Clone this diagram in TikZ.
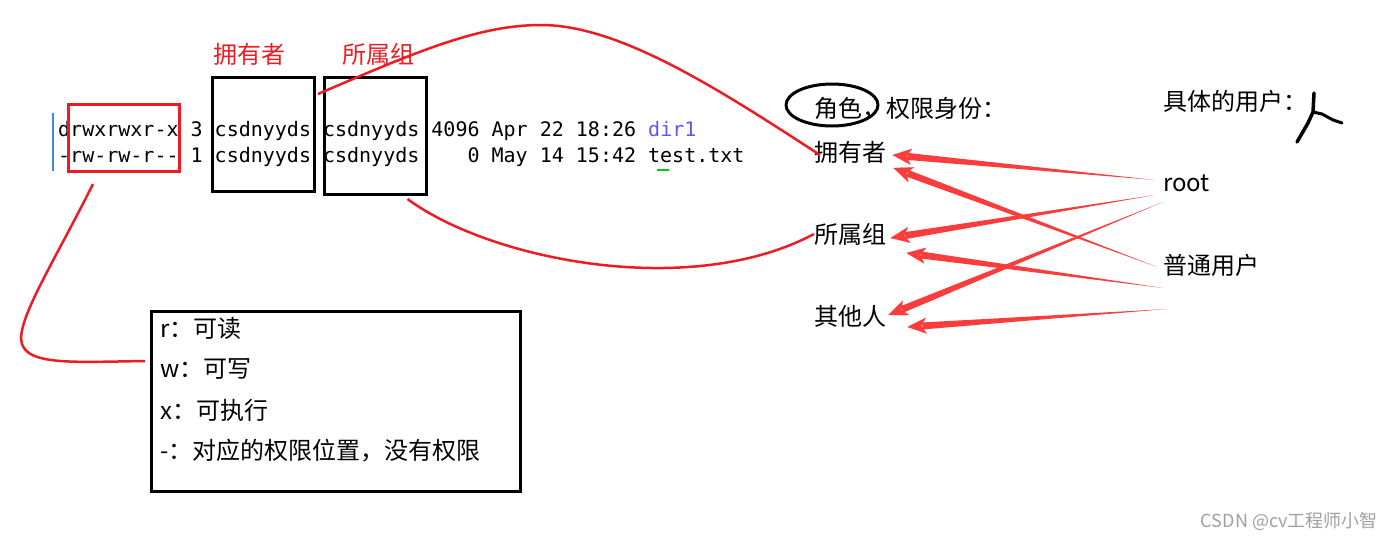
\documentclass[tikz,border=0pt]{standalone}
\usepackage{fontspec}
\setmainfont{Noto Sans CJK SC}
\setmonofont{DejaVu Sans Mono}
\usepackage{tikz}
\usetikzlibrary{arrows.meta,positioning,calc}
\definecolor{penred}{RGB}{237,28,36}
\definecolor{arrowred}{RGB}{250,60,60}
\definecolor{dirblue}{RGB}{90,90,255}
\definecolor{cursorblue}{RGB}{60,140,220}
\definecolor{markgray}{RGB}{160,160,160}
\tikzset{
  term/.style={font=\ttfamily\fontsize{20}{24}\selectfont, inner sep=0pt, anchor=base west},
  lbl/.style={font=\fontsize{24}{28}\selectfont, inner sep=0pt, anchor=west},
  redlbl/.style={lbl, text=penred},
  blkbox/.style={draw, line width=3pt, inner sep=0pt},
  redbox/.style={blkbox, draw=penred},
  keybox/.style={draw, line width=3pt, minimum width=369pt, minimum height=180pt, anchor=north west},
  link/.style={draw=penred, line width=2.5pt},
  pen/.style={draw, line width=3pt, line cap=round, line join=round},
}
% tapered red arrow: #1 tail, #2 tip
\newcommand{\fatarrow}[2]{%
  \coordinate (fa-base) at ($(#2)!15pt!(#1)$);
  \fill[arrowred] (#1) -- ($(fa-base)!3.5pt!90:(#2)$) -- ($(fa-base)!3.5pt!-90:(#2)$) -- cycle;
  \draw[arrowred, line width=0.1pt, -{Stealth[length=19pt,width=16pt,inset=5pt]}] (fa-base) -- (#2);
}

\begin{document}
\begin{tikzpicture}[x=1pt, y=-1pt]
  \useasboundingbox (0,0) rectangle (1394,541);

  % terminal listing
  \draw[cursorblue, line width=1.2pt] (53,113) -- (53,171);
  \node[term] (ln1) at (58,136.5) {drwxrwxr-x 3 csdnyyds csdnyyds 4096 Apr 22 18:26 \textcolor{dirblue}{dir1}};
  \node[term] (ln2) at (58,162.5) {-rw-rw-r-- 1 csdnyyds csdnyyds~~~~0 May 14 15:42 test.txt};
  \draw[green!80!black, line width=2pt] (657,170) -- (669,170);

  \node[redbox, minimum width=111pt, minimum height=67pt] (permbox) at (124,138) {};
  \node[blkbox, minimum width=102pt, minimum height=114pt] (ownbox) at (263.5,134.5) {};
  \node[blkbox, minimum width=102pt, minimum height=117pt] (grpbox) at (375.5,136) {};
  \node[redlbl] (ownlbl) at (213,54) {拥有者};
  \node[redlbl] (grplbl) at (342,54) {所属组};

  % legend
  \node[keybox] (key) at (149.5,309.5) {};
  \node[lbl] (kr) at (160,328) {r：可读};
  \node[lbl] (kw) at (160,369) {w：可写};
  \node[lbl] (kx) at (160,410) {x：可执行};
  \node[lbl] (kn) at (160,451) {-：对应的权限位置，没有权限};

  % roles
  \node[lbl] (role) at (814,109) {角色，权限身份：};
  \draw[pen] (832,105) ellipse [x radius=46pt, y radius=21pt];
  \node[lbl] (own) at (814,152) {拥有者};
  \node[lbl] (grp) at (814,234) {所属组};
  \node[lbl] (oth) at (814,316) {其他人};

  % users
  \node[lbl] (users) at (1163,101) {具体的用户：};
  \draw[pen, line width=3.5pt] (1314,93) -- (1313,112) -- (1308,123) -- (1297,142);
  \draw[pen] (1313,112) -- (1322,114) -- (1333,120) -- (1342,123);
  \node[lbl, anchor=base west] (root) at (1163,191) {root};
  \node[lbl] (usr) at (1163,265) {普通用户};

  % curves
  \draw[link] ([shift={(-5,18)}]grpbox.north west) .. controls (420,50) and (480,25) .. (541,25)
              .. controls (620,25) and (720,90) .. ([shift={(6,3)}]own.west);
  \draw[link] ([shift={(32,3)}]grpbox.south) .. controls (490,260) and (690,300) .. (grp.west);
  \draw[link] ([shift={(-31,11)}]permbox.south) .. controls (50,270) and (10,330) .. (24,348)
              .. controls (35,365) and (80,362) .. ([shift={(-4.5,51.5)}]key.north west);

  % arrows
  \coordinate (r1) at (1155,180);
  \coordinate (r2) at (1155,195);
  \coordinate (r3) at (1163,202);
  \coordinate (u1) at (1157,267);
  \coordinate (u2) at (1163,288);
  \coordinate (u3) at (1167,309);
  \coordinate (t1) at ([shift={(6,3)}]own.east);
  \coordinate (t2) at ([shift={(7,16)}]own.east);
  \coordinate (t3) at ([shift={(4,4)}]grp.east);
  \coordinate (t4) at ([shift={(20,19)}]grp.east);
  \coordinate (t5) at ([shift={(2,-1)}]oth.east);
  \coordinate (t6) at ([shift={(21,11)}]oth.east);
  \fatarrow{r1}{t1}
  \fatarrow{u1}{t2}
  \fatarrow{r2}{t3}
  \fatarrow{u2}{t4}
  \fatarrow{r3}{t5}
  \fatarrow{u3}{t6}

  \node[font=\fontsize{18}{20}\selectfont, text=markgray, inner sep=0pt, anchor=east] (mark) at (1378,521) {CSDN @cv工程师小智};
\end{tikzpicture}
\end{document}
